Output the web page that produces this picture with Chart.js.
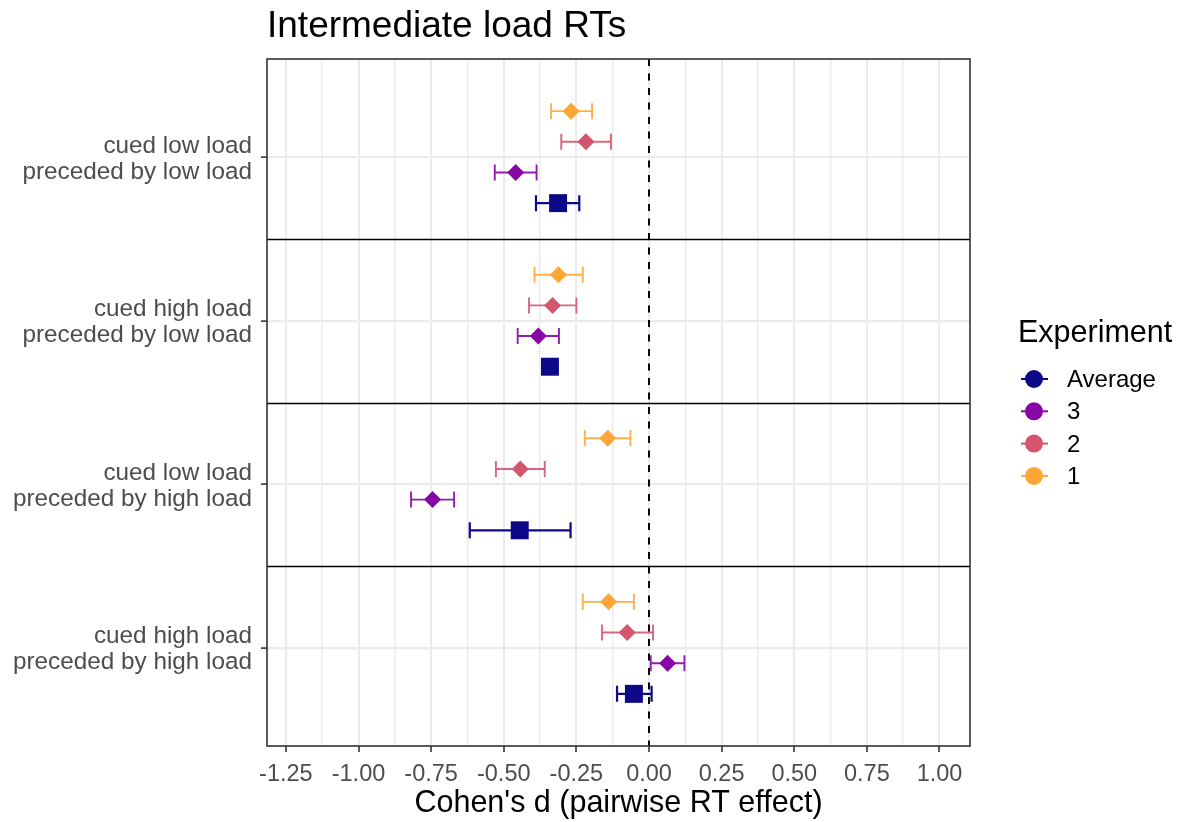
<!DOCTYPE html>
<html>
<head>
<meta charset="utf-8">
<title>Intermediate load RTs</title>
<script src="https://cdn.jsdelivr.net/npm/chart.js@4.4.1/dist/chart.umd.min.js"></script>
<style>
  html, body { margin: 0; padding: 0; background: #fff; }
  canvas { display: block; }
</style>
</head>
<body>
<canvas id="rt-chart" width="1185" height="822"></canvas>
<script>
// Categories, top to bottom (two-line labels)
const categories = [
    ['cued low load', 'preceded by low load'],
    ['cued high load', 'preceded by low load'],
    ['cued low load', 'preceded by high load'],
    ['cued high load', 'preceded by high load']
];

// Cohen's d estimates and interval ends, one value per category
const exp1Est  = [-0.268, -0.312, -0.142, -0.139];
const exp1Low  = [-0.337, -0.394, -0.221, -0.228];
const exp1High = [-0.196, -0.228, -0.064, -0.052];

const exp2Est  = [-0.217, -0.332, -0.443, -0.075];
const exp2Low  = [-0.302, -0.413, -0.527, -0.162];
const exp2High = [-0.131, -0.250, -0.359, 0.014];

const exp3Est  = [-0.459, -0.381, -0.745, 0.064];
const exp3Low  = [-0.531, -0.452, -0.819, 0.006];
const exp3High = [-0.387, -0.310, -0.671, 0.122];

const avgEst  = [-0.313, -0.341, -0.445, -0.052];
const avgLow  = [-0.389, -0.360, -0.617, -0.110];
const avgHigh = [-0.240, -0.322, -0.270, 0.009];

// x axis ticks
const xTicks = [-1.25, -1.00, -0.75, -0.50, -0.25, 0.00, 0.25, 0.50, 0.75, 1.00];
const xTickLabels = ['-1.25', '-1.00', '-0.75', '-0.50', '-0.25', '0.00', '0.25', '0.50', '0.75', '1.00'];
const xMinorTicks = [-1.125, -0.875, -0.625, -0.375, -0.125, 0.125, 0.375, 0.625, 0.875];

// styling (kept apart from the data)
const FONT = '"Liberation Sans", Arial, Helvetica, sans-serif';
const DODGE = [-0.28125, -0.09375, 0.09375, 0.28125];
const series = [
    { name: '1',       est: exp1Est, low: exp1Low, high: exp1High, color: '#FCA636', bar: 'rgba(252,166,54,0.9)',  shape: 'rectRot', radius: 8.5 },
    { name: '2',       est: exp2Est, low: exp2Low, high: exp2High, color: '#D5546E', bar: 'rgba(213,84,110,0.9)',  shape: 'rectRot', radius: 8.5 },
    { name: '3',       est: exp3Est, low: exp3Low, high: exp3High, color: '#8606A6', bar: 'rgba(134,6,166,0.9)',   shape: 'rectRot', radius: 8.5 },
    { name: 'Average', est: avgEst,  low: avgLow,  high: avgHigh,  color: '#0D0887', bar: '#0D0887',                shape: 'rect',    radius: 12.7 }
];

const datasets = series.map((s, si) => ({
    label: s.name,
    data: categories.map((c, i) => ({ x: s.est[i], y: i + 1 + DODGE[si], lo: s.low[i], hi: s.high[i] })),
    pointStyle: s.shape,
    pointRadius: s.radius,
    pointHoverRadius: s.radius,
    backgroundColor: s.color,
    borderColor: s.color,
    borderWidth: 0,
    barColor: s.bar,
    showLine: false
}));

function drawText(ctx, str, x, y, align, size, color) {
    ctx.save();
    ctx.font = size + 'px ' + FONT;
    ctx.fillStyle = color;
    ctx.textAlign = align;
    ctx.textBaseline = 'alphabetic';
    ctx.fillText(str, x, y);
    ctx.restore();
}

// Error bars under the markers
const errorBars = {
    id: 'errorBars',
    beforeDatasetsDraw(chart) {
        const { ctx, scales: { x, y } } = chart;
        chart.data.datasets.forEach(ds => {
            ctx.save();
            ctx.strokeStyle = ds.barColor;
            ctx.lineWidth = ds.label === 'Average' ? 2.2 : 1.9;
            ds.data.forEach(d => {
                const py = y.getPixelForValue(d.y);
                const x0 = x.getPixelForValue(d.lo);
                const x1 = x.getPixelForValue(d.hi);
                ctx.beginPath();
                ctx.moveTo(x0, py); ctx.lineTo(x1, py);
                ctx.moveTo(x0, py - 8); ctx.lineTo(x0, py + 8);
                ctx.moveTo(x1, py - 8); ctx.lineTo(x1, py + 8);
                ctx.stroke();
            });
            ctx.restore();
        });
    }
};

// Panel border, zero line, category separators, texts and legend
const decorations = {
    id: 'decorations',
    afterDatasetsDraw(chart) {
        const { ctx, chartArea: a, scales: { x, y } } = chart;
        ctx.save();
        // separators between categories
        ctx.strokeStyle = '#000';
        ctx.lineWidth = 1.5;
        [1.5, 2.5, 3.5].forEach(v => {
            const py = Math.round(y.getPixelForValue(v)) + 0.5;
            ctx.beginPath();
            ctx.moveTo(a.left, py); ctx.lineTo(a.right, py);
            ctx.stroke();
        });
        // dashed zero line
        const zx = x.getPixelForValue(0);
        ctx.setLineDash([7, 7.5]);
        ctx.lineWidth = 2;
        ctx.beginPath();
        ctx.moveTo(zx, a.top); ctx.lineTo(zx, a.bottom);
        ctx.stroke();
        ctx.setLineDash([]);
        // panel border
        ctx.strokeStyle = '#333333';
        ctx.lineWidth = 1.6;
        ctx.strokeRect(a.left, a.top, a.right - a.left, a.bottom - a.top);
        ctx.restore();
    },
    afterDraw(chart) {
        const { ctx, chartArea: a, scales: { x, y } } = chart;
        // title
        drawText(ctx, 'Intermediate load RTs', a.left, 37, 'left', 37, '#000');
        // y labels
        categories.forEach((lines, i) => {
            const py = y.getPixelForValue(i + 1);
            drawText(ctx, lines[0], a.left - 15, py - 4.5, 'right', 24.3, '#4D4D4D');
            drawText(ctx, lines[1], a.left - 15, py + 21.5, 'right', 24.3, '#4D4D4D');
        });
        // x tick labels
        xTicks.forEach((v, i) => {
            drawText(ctx, xTickLabels[i], x.getPixelForValue(v), a.bottom + 35, 'center', 23.5, '#4D4D4D');
        });
        // x axis title
        drawText(ctx, "Cohen's d (pairwise RT effect)", (a.left + a.right) / 2, a.bottom + 66, 'center', 30.5, '#000');
        // legend
        drawText(ctx, 'Experiment', 1018, 341.5, 'left', 30.5, '#000');
        const order = [3, 2, 1, 0];
        order.forEach((si, k) => {
            const s = series[si];
            const cy = 379 + k * 32.3;
            ctx.save();
            ctx.strokeStyle = s.color;
            ctx.lineWidth = 2;
            ctx.beginPath();
            ctx.moveTo(1021, cy); ctx.lineTo(1048, cy);
            ctx.stroke();
            ctx.fillStyle = s.color;
            ctx.beginPath();
            ctx.arc(1034, cy, 9, 0, Math.PI * 2);
            ctx.fill();
            ctx.restore();
            drawText(ctx, s.name, 1067, cy + 8, 'left', 24, '#000');
        });
    }
};

const ctx = document.getElementById('rt-chart').getContext('2d');
new Chart(ctx, {
    type: 'scatter',
    data: { datasets: datasets },
    options: {
        responsive: false,
        animation: false,
        devicePixelRatio: 1,
        layout: { padding: { top: 59, right: 215, left: 0, bottom: 0 } },
        plugins: {
            legend: { display: false },
            title: { display: false },
            tooltip: { enabled: false }
        },
        scales: {
            x: {
                type: 'linear',
                min: -1.315,
                max: 1.105,
                afterBuildTicks: scale => {
                    scale.ticks = xTicks.concat(xMinorTicks).sort((p, q) => p - q).map(v => ({ value: v }));
                },
                afterFit: scale => { scale.height = 76; },
                ticks: { display: false },
                border: { display: false },
                grid: {
                    color: '#EBEBEB',
                    lineWidth: c => xTicks.includes(c.tick.value) ? 2 : 1.4,
                    tickColor: c => xTicks.includes(c.tick.value) ? '#333333' : 'rgba(0,0,0,0)',
                    tickLength: 6,
                    tickWidth: 1.6
                }
            },
            y: {
                type: 'linear',
                reverse: true,
                min: 0.4,
                max: 4.6,
                afterBuildTicks: scale => {
                    scale.ticks = categories.map((c, i) => ({ value: i + 1 }));
                },
                afterFit: scale => { scale.width = 267; },
                ticks: { display: false },
                border: { display: false },
                grid: {
                    color: '#EBEBEB',
                    lineWidth: 2.2,
                    tickColor: '#333333',
                    tickLength: 6,
                    tickWidth: 1.6
                }
            }
        }
    },
    plugins: [errorBars, decorations]
});
</script>
</body>
</html>
